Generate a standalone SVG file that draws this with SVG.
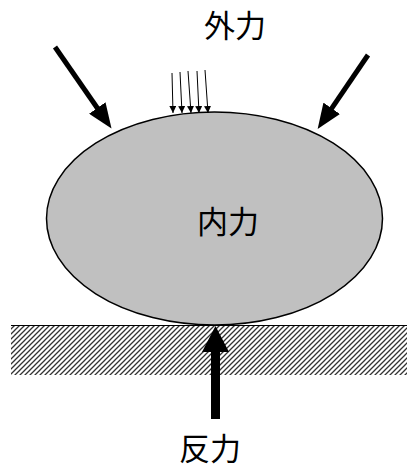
<svg xmlns="http://www.w3.org/2000/svg" width="407" height="468" viewBox="0 0 407 468">
<style>
.lbl{font-family:"Noto Sans CJK JP","Noto Sans CJK SC",sans-serif;font-size:31px;fill:#000;text-anchor:middle}
.big{stroke:#000;stroke-width:5;fill:none}
.thin{stroke:#000;stroke-width:1;fill:none}
</style>
<defs>
<pattern id="hatch" patternUnits="userSpaceOnUse" width="5" height="5">
<path d="M-1,1 L1,-1 M0,5 L5,0 M4,6 L6,4" stroke="#333" stroke-width="1.3"/>
</pattern>
<marker id="bigHead" viewBox="0 0 10 8" markerWidth="5" markerHeight="4" refX="0.5" refY="4" orient="auto">
<path d="M0,0 L10,4 L0,8 z" fill="#000"/>
</marker>
<marker id="smallHead" viewBox="0 0 8 8" markerUnits="userSpaceOnUse" markerWidth="7" markerHeight="7" refX="8" refY="4" orient="auto">
<path d="M0,0 L8,4 L0,8 z" fill="#000"/>
</marker>
</defs>
<rect width="407" height="468" fill="#fff"/>
<g id="ground">
<rect x="11" y="326" width="396" height="49" fill="url(#hatch)"/>
<line x1="11" y1="325.5" x2="407" y2="325.5" stroke="#000" stroke-width="1.2"/>
</g>
<g id="body">
<ellipse cx="214.5" cy="218.5" rx="168" ry="106.5" fill="#c0c0c0" stroke="#000" stroke-width="1.5"/>
<text class="lbl" x="228" y="233">内力</text>
</g>
<g id="connectors">
<line class="big" x1="55" y1="47" x2="98" y2="109" marker-end="url(#bigHead)"/>
<line class="big" x1="368" y1="55" x2="331" y2="109.3" marker-end="url(#bigHead)"/>
<line class="thin" x1="172" y1="73" x2="173" y2="113" marker-end="url(#smallHead)"/>
<line class="thin" x1="180" y1="72" x2="182" y2="113" marker-end="url(#smallHead)"/>
<line class="thin" x1="188" y1="71" x2="191" y2="113" marker-end="url(#smallHead)"/>
<line class="thin" x1="197" y1="71" x2="199" y2="113" marker-end="url(#smallHead)"/>
<line class="thin" x1="205" y1="70" x2="208" y2="113" marker-end="url(#smallHead)"/>
<path d="M211,419 L211,352 L202,352 L215.5,326 L229,352 L220,352 L220,419 z" fill="#000"/>
</g>
<g id="external">
<text class="lbl" x="235" y="37">外力</text>
</g>
<g id="reaction">
<text class="lbl" x="210" y="460">反力</text>
</g>
</svg>
